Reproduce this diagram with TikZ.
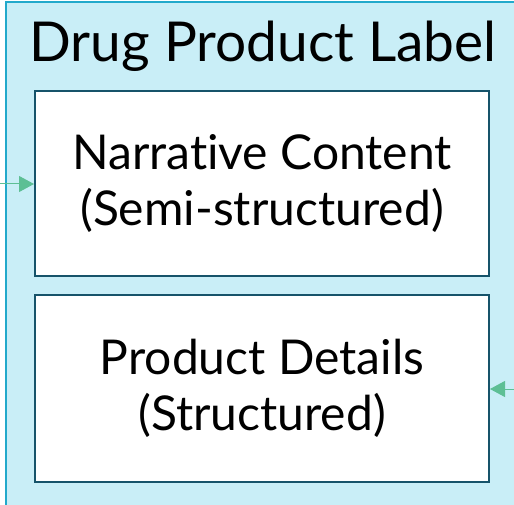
\documentclass[tikz,border=0pt]{standalone}
\usepackage{fontspec}
\setmainfont{Lato}[Ligatures=NoCommon]
\usetikzlibrary{arrows.meta}
\definecolor{contfill}{HTML}{C9EEF7}
\definecolor{contline}{HTML}{22A9CB}
\definecolor{boxline}{HTML}{16536A}
\definecolor{arrgreen}{HTML}{5DBF95}
\tikzset{
  inner/.style={draw=boxline, line width=2pt, fill=white, minimum width=454pt, minimum height=185pt, align=center, font=\fontsize{48}{56}\selectfont, inner sep=0pt},
  flow/.style={draw=arrgreen, line width=1pt, -{Triangle[length=15pt,width=16pt]}}
}
\begin{document}
\begin{tikzpicture}[x=1pt,y=-1pt]
\useasboundingbox (0,0) rectangle (514,505);
\clip (0,0) rectangle (514,505);
\draw[fill=contfill, draw=contline, line width=2.2pt] (6,2) rectangle (540,540);
\node[font=\fontsize{55}{60}\selectfont, anchor=base] (title) at (263,62) {Drug Product Label};
\node[inner] (n1) at (262,183.5) {Narrative Content\\(Semi-structured)};
\node[inner, minimum height=187pt] (n2) at (262,388.5) {Product Details\\(Structured)};
\coordinate (inL) at (0,184);
\coordinate (inR) at (514,389);
\draw[flow] (inL) -- (n1.west |- inL);
\draw[flow] (inR) -- (n2.east |- inR);
\end{tikzpicture}
\end{document}
